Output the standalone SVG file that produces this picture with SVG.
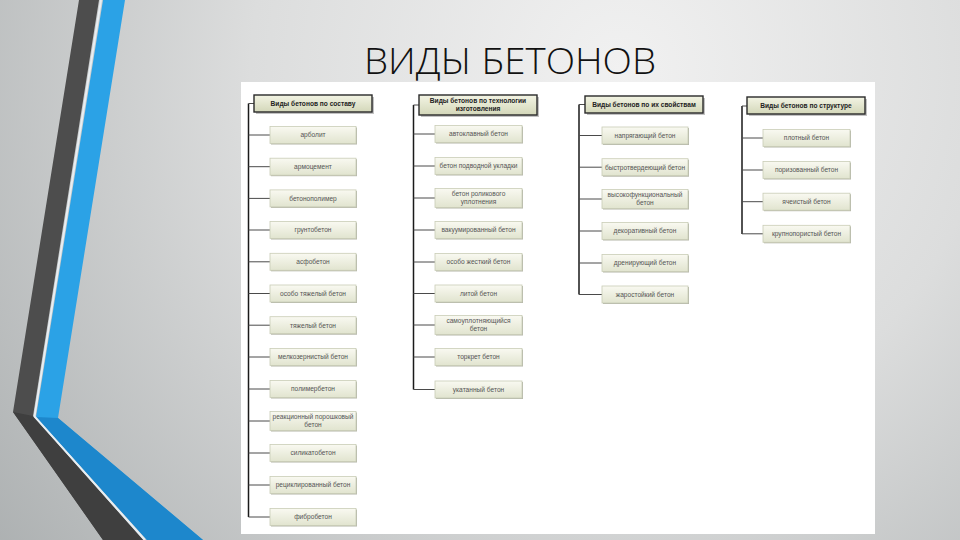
<svg xmlns="http://www.w3.org/2000/svg" width="960" height="540" viewBox="0 0 960 540">
<defs>
<radialGradient id="bg" cx="620" cy="70" r="820" gradientUnits="userSpaceOnUse">
<stop offset="0" stop-color="#f1f1f1"/>
<stop offset="0.45" stop-color="#dcdddd"/>
<stop offset="1" stop-color="#a9adae"/>
</radialGradient>
<linearGradient id="hdr" x1="0" y1="0" x2="0" y2="1">
<stop offset="0" stop-color="#f3f4e4"/>
<stop offset="1" stop-color="#d3d7b9"/>
</linearGradient>
<linearGradient id="itm" x1="0" y1="0" x2="0" y2="1">
<stop offset="0" stop-color="#f9f9f1"/>
<stop offset="1" stop-color="#e1e4cf"/>
</linearGradient>
<style>
.title{font-family:"Open Sans","Liberation Sans",sans-serif;font-weight:300;font-size:36px;fill:#111}
.hb{fill:url(#hdr);stroke:#2a2a2a;stroke-width:1.4}
.hs{fill:#9a9a9a;opacity:0.6}
.ht{font-family:"Liberation Sans","DejaVu Sans",sans-serif;font-size:6.6px;font-weight:bold;fill:#222;text-anchor:middle}
.ib{fill:url(#itm);stroke:#c9ccb6;stroke-width:0.8}
.is{fill:#b4b6a8}
.it{font-family:"Liberation Sans","DejaVu Sans",sans-serif;font-size:6.6px;fill:#555;text-anchor:middle}
.v{stroke:#1a1a1a;stroke-width:1.5;fill:none}
.h{stroke:#4a4a4a;stroke-width:1;fill:none}
</style>
</defs>
<rect x="0" y="0" width="960" height="540" fill="url(#bg)"/>
<g id="stripes">
<polygon points="79,0 99,0 33,416 143,540 103,540 13,412" fill="#4d4d4d"/>
<polygon points="33,416 143,540 103,540 13,412" fill="#3f3f3f"/>
<polygon points="103,0 125,0 58,418 203,540 147,540 36,417" fill="#2ba2e6"/>
<polygon points="36,417 58,418 203,540 147,540" fill="#1d87cc"/>
<polyline points="101,0 34.5,416.5 145,540" fill="none" stroke="#e8eef2" stroke-width="2"/>
</g>
<text class="title" x="510" y="74" text-anchor="middle" textLength="292" lengthAdjust="spacingAndGlyphs">ВИДЫ БЕТОНОВ</text>
<rect x="241" y="82" width="634" height="452" fill="#ffffff"/>

<g id="connectors">
<path class="v" d="M248.5 103.5V517M413.5 105V389.5M579 104.5V294.5M742 106V234"/>
<path class="h" d="M248.5 103.5H254M413.5 105H419M579 104.5H585M742 106H747"/>
<path class="h" d="M248.5 135H270M248.5 166.7H270M248.5 198.4H270M248.5 230H270M248.5 261.8H270M248.5 293.5H270M248.5 325.2H270M248.5 357H270M248.5 389H270M248.5 421H270M248.5 453H270M248.5 485H270M248.5 517H270"/>
<path class="h" d="M413.5 134H435M413.5 166H435M413.5 198H435M413.5 230H435M413.5 262H435M413.5 293.5H435M413.5 325H435M413.5 357H435M413.5 389.5H435"/>
<path class="h" d="M579 135.5H602M579 167.2H602M579 199H602M579 231H602M579 263H602M579 294.5H602"/>
<path class="h" d="M742 138H763M742 170H763M742 201.7H763M742 233.8H763"/>
</g>

<g id="h1"><rect class="hs" x="256" y="97" width="118" height="17"/><rect class="hb" x="254" y="95" width="118" height="17"/><text class="ht" x="313" y="105.8">Виды бетонов по составу</text></g>
<g id="h2"><rect class="hs" x="421" y="97" width="118" height="20"/><rect class="hb" x="419" y="95" width="118" height="20"/><text class="ht" x="478" y="102.6">Виды бетонов по технологии</text><text class="ht" x="478" y="110.6">изготовления</text></g>
<g id="h3"><rect class="hs" x="587" y="98" width="118" height="17"/><rect class="hb" x="585" y="96" width="118" height="17"/><text class="ht" x="644" y="106.8">Виды бетонов по их свойствам</text></g>
<g id="h4"><rect class="hs" x="749" y="99" width="118" height="17"/><rect class="hb" x="747" y="97" width="118" height="17"/><text class="ht" x="806" y="107.8">Виды бетонов по структуре</text></g>

<g id="c1-1"><rect class="is" x="271" y="127.5" width="86" height="17"/><rect class="ib" x="270" y="126.5" width="86" height="17"/><text class="it" x="313" y="137.3">арболит</text></g>
<g id="c1-2"><rect class="is" x="271" y="159.2" width="86" height="17"/><rect class="ib" x="270" y="158.2" width="86" height="17"/><text class="it" x="313" y="169">армоцемент</text></g>
<g id="c1-3"><rect class="is" x="271" y="190.9" width="86" height="17"/><rect class="ib" x="270" y="189.9" width="86" height="17"/><text class="it" x="313" y="200.7">бетонополимер</text></g>
<g id="c1-4"><rect class="is" x="271" y="222.5" width="86" height="17"/><rect class="ib" x="270" y="221.5" width="86" height="17"/><text class="it" x="313" y="232.3">грунтобетон</text></g>
<g id="c1-5"><rect class="is" x="271" y="254.3" width="86" height="17"/><rect class="ib" x="270" y="253.3" width="86" height="17"/><text class="it" x="313" y="264.1">асфобетон</text></g>
<g id="c1-6"><rect class="is" x="271" y="286" width="86" height="17"/><rect class="ib" x="270" y="285" width="86" height="17"/><text class="it" x="313" y="295.8">особо тяжелый бетон</text></g>
<g id="c1-7"><rect class="is" x="271" y="317.7" width="86" height="17"/><rect class="ib" x="270" y="316.7" width="86" height="17"/><text class="it" x="313" y="327.5">тяжелый бетон</text></g>
<g id="c1-8"><rect class="is" x="271" y="349.5" width="86" height="17"/><rect class="ib" x="270" y="348.5" width="86" height="17"/><text class="it" x="313" y="359.3">мелкозернистый бетон</text></g>
<g id="c1-9"><rect class="is" x="271" y="381.5" width="86" height="17"/><rect class="ib" x="270" y="380.5" width="86" height="17"/><text class="it" x="313" y="391.3">полимербетон</text></g>
<g id="c1-10"><rect class="is" x="271" y="412.5" width="86" height="19"/><rect class="ib" x="270" y="411.5" width="86" height="19"/><text class="it" x="313" y="419">реакционный порошковый</text><text class="it" x="313" y="426.5">бетон</text></g>
<g id="c1-11"><rect class="is" x="271" y="445.5" width="86" height="17"/><rect class="ib" x="270" y="444.5" width="86" height="17"/><text class="it" x="313" y="455.3">силикатобетон</text></g>
<g id="c1-12"><rect class="is" x="271" y="477.5" width="86" height="17"/><rect class="ib" x="270" y="476.5" width="86" height="17"/><text class="it" x="313" y="487.3">рециклированный бетон</text></g>
<g id="c1-13"><rect class="is" x="271" y="509.5" width="86" height="17"/><rect class="ib" x="270" y="508.5" width="86" height="17"/><text class="it" x="313" y="519.3">фибробетон</text></g>

<g id="c2-1"><rect class="is" x="436" y="126.5" width="87" height="17"/><rect class="ib" x="435" y="125.5" width="87" height="17"/><text class="it" x="478.5" y="136.3">автоклавный бетон</text></g>
<g id="c2-2"><rect class="is" x="436" y="158.5" width="87" height="17"/><rect class="ib" x="435" y="157.5" width="87" height="17"/><text class="it" x="478.5" y="168.3">бетон подводной укладки</text></g>
<g id="c2-3"><rect class="is" x="436" y="189.5" width="87" height="19"/><rect class="ib" x="435" y="188.5" width="87" height="19"/><text class="it" x="478.5" y="196">бетон роликового</text><text class="it" x="478.5" y="203.5">уплотнения</text></g>
<g id="c2-4"><rect class="is" x="436" y="222.5" width="87" height="17"/><rect class="ib" x="435" y="221.5" width="87" height="17"/><text class="it" x="478.5" y="232.3">вакуумированный бетон</text></g>
<g id="c2-5"><rect class="is" x="436" y="254.5" width="87" height="17"/><rect class="ib" x="435" y="253.5" width="87" height="17"/><text class="it" x="478.5" y="264.3">особо жесткий бетон</text></g>
<g id="c2-6"><rect class="is" x="436" y="286" width="87" height="17"/><rect class="ib" x="435" y="285" width="87" height="17"/><text class="it" x="478.5" y="295.8">литой бетон</text></g>
<g id="c2-7"><rect class="is" x="436" y="316.5" width="87" height="19"/><rect class="ib" x="435" y="315.5" width="87" height="19"/><text class="it" x="478.5" y="323">самоуплотняющийся</text><text class="it" x="478.5" y="330.5">бетон</text></g>
<g id="c2-8"><rect class="is" x="436" y="349.5" width="87" height="17"/><rect class="ib" x="435" y="348.5" width="87" height="17"/><text class="it" x="478.5" y="359.3">торкрет бетон</text></g>
<g id="c2-9"><rect class="is" x="436" y="382" width="87" height="17"/><rect class="ib" x="435" y="381" width="87" height="17"/><text class="it" x="478.5" y="391.8">укатанный бетон</text></g>

<g id="c3-1"><rect class="is" x="603" y="128" width="86" height="17"/><rect class="ib" x="602" y="127" width="86" height="17"/><text class="it" x="645" y="137.8">напрягающий бетон</text></g>
<g id="c3-2"><rect class="is" x="603" y="159.7" width="86" height="17"/><rect class="ib" x="602" y="158.7" width="86" height="17"/><text class="it" x="645" y="169.5">быстротвердеющий бетон</text></g>
<g id="c3-3"><rect class="is" x="603" y="190.5" width="86" height="19"/><rect class="ib" x="602" y="189.5" width="86" height="19"/><text class="it" x="645" y="197">высокофункциональный</text><text class="it" x="645" y="204.5">бетон</text></g>
<g id="c3-4"><rect class="is" x="603" y="223.5" width="86" height="17"/><rect class="ib" x="602" y="222.5" width="86" height="17"/><text class="it" x="645" y="233.3">декоративный бетон</text></g>
<g id="c3-5"><rect class="is" x="603" y="255.5" width="86" height="17"/><rect class="ib" x="602" y="254.5" width="86" height="17"/><text class="it" x="645" y="265.3">дренирующий бетон</text></g>
<g id="c3-6"><rect class="is" x="603" y="287" width="86" height="17"/><rect class="ib" x="602" y="286" width="86" height="17"/><text class="it" x="645" y="296.8">жаростойкий бетон</text></g>

<g id="c4-1"><rect class="is" x="764" y="130.5" width="87" height="17"/><rect class="ib" x="763" y="129.5" width="87" height="17"/><text class="it" x="806.5" y="140.3">плотный бетон</text></g>
<g id="c4-2"><rect class="is" x="764" y="162.5" width="87" height="17"/><rect class="ib" x="763" y="161.5" width="87" height="17"/><text class="it" x="806.5" y="172.3">поризованный бетон</text></g>
<g id="c4-3"><rect class="is" x="764" y="194.2" width="87" height="17"/><rect class="ib" x="763" y="193.2" width="87" height="17"/><text class="it" x="806.5" y="204">ячеистый бетон</text></g>
<g id="c4-4"><rect class="is" x="764" y="226.3" width="87" height="17"/><rect class="ib" x="763" y="225.3" width="87" height="17"/><text class="it" x="806.5" y="236.1">крупнопористый бетон</text></g>
</svg>
